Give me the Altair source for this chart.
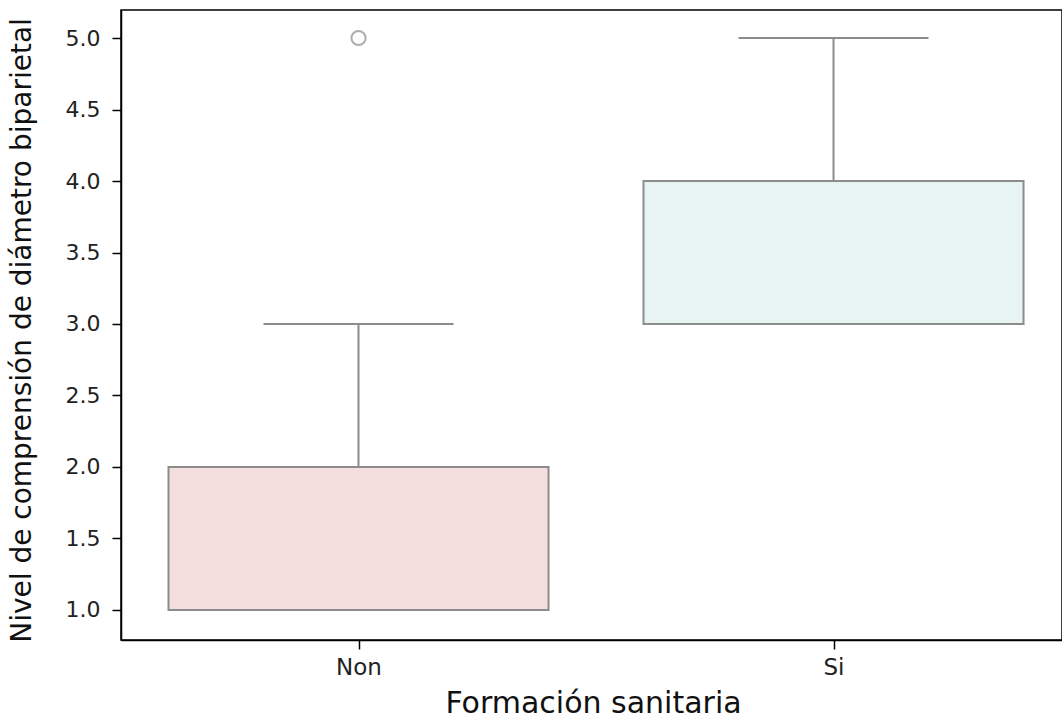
import altair as alt
import pandas as pd

groups = ["Non", "Si"]
positions = [0, 1]
q1 = [1.0, 3.0]
median = [1.0, 3.0]
q3 = [2.0, 4.0]
whisker_low = [1.0, 3.0]
whisker_high = [3.0, 5.0]
fills = ["#f5dede", "#e7f4f2"]
outlier_group = ["Non"]
outlier_pos = [0]
outlier_val = [5.0]

df = pd.DataFrame({
    "group": groups, "pos": positions, "q1": q1, "median": median, "q3": q3,
    "lo": whisker_low, "hi": whisker_high, "fill": fills,
})
df["bx"] = df["pos"] - 0.4
df["bx2"] = df["pos"] + 0.4
df["cx"] = df["pos"] - 0.2
df["cx2"] = df["pos"] + 0.2
out = pd.DataFrame({"group": outlier_group, "pos": outlier_pos, "val": outlier_val})

xscale = alt.Scale(domain=[-0.5, 1.481], nice=False, zero=False)
yscale = alt.Scale(domain=[0.79, 5.196], nice=False, zero=False)
gray = "#8c8c8c"
lw = 2

xaxis = alt.Axis(values=[0, 1], labelExpr="datum.value == 0 ? 'Non' : 'Si'",
                 title="Formación sanitaria", grid=False,
                 titleX=472, titleY=63, titleBaseline="middle", titleAlign="center")
yaxis = alt.Axis(values=[1.0, 1.5, 2.0, 2.5, 3.0, 3.5, 4.0, 4.5, 5.0], format=".1f",
                 title="Nivel de comprensión de diámetro biparietal", grid=False,
                 titleX=-99, titleY=320, titleBaseline="middle", titleAlign="center",
                 titleAngle=270)

base = alt.Chart(df)

whiskers_up = base.mark_rule(color=gray, strokeWidth=lw).encode(
    x=alt.X("pos:Q", scale=xscale, axis=xaxis),
    y=alt.Y("q3:Q", scale=yscale, axis=yaxis), y2="hi:Q")
whiskers_dn = base.mark_rule(color=gray, strokeWidth=lw).encode(
    x=alt.X("pos:Q", scale=xscale), y=alt.Y("lo:Q", scale=yscale), y2="q1:Q")
boxes = base.mark_rect(stroke=gray, strokeWidth=lw).encode(
    x=alt.X("bx:Q", scale=xscale), x2="bx2:Q",
    y=alt.Y("q1:Q", scale=yscale), y2="q3:Q",
    fill=alt.Fill("fill:N", scale=None))
caps_hi = base.mark_rule(color=gray, strokeWidth=lw).encode(
    x=alt.X("cx:Q", scale=xscale), x2="cx2:Q", y=alt.Y("hi:Q", scale=yscale))
caps_lo = base.mark_rule(color=gray, strokeWidth=lw).encode(
    x=alt.X("cx:Q", scale=xscale), x2="cx2:Q", y=alt.Y("lo:Q", scale=yscale))
medians = base.mark_rule(color=gray, strokeWidth=lw).encode(
    x=alt.X("bx:Q", scale=xscale), x2="bx2:Q", y=alt.Y("median:Q", scale=yscale))
outliers = alt.Chart(out).mark_point(shape="circle", size=200, filled=False,
                                     color=gray, strokeWidth=2).encode(
    x=alt.X("pos:Q", scale=xscale), y=alt.Y("val:Q", scale=yscale))

chart = alt.layer(whiskers_up, whiskers_dn, boxes, caps_hi, caps_lo, medians, outliers).properties(
    width=941, height=630,
    autosize=alt.AutoSizeParams(type="none"),
    padding={"left": 121, "top": 10, "right": 0, "bottom": 80},
).configure_view(
    stroke="black", strokeWidth=1.5
).configure_axis(
    domainColor="black", domainWidth=1.5, tickColor="black", tickWidth=1.5, tickSize=9,
    labelFont="DejaVu Sans", labelFontSize=22, labelColor="#222222",
    titleFont="DejaVu Sans", titleColor="#111111", titleFontWeight="normal",
).configure_axisX(
    titleFontSize=30, labelPadding=7, labelFontSize=23
).configure_axisY(
    titleFontSize=28, labelPadding=12
)

chart.save("out.html", embed_options={"renderer": "svg", "actions": False})
